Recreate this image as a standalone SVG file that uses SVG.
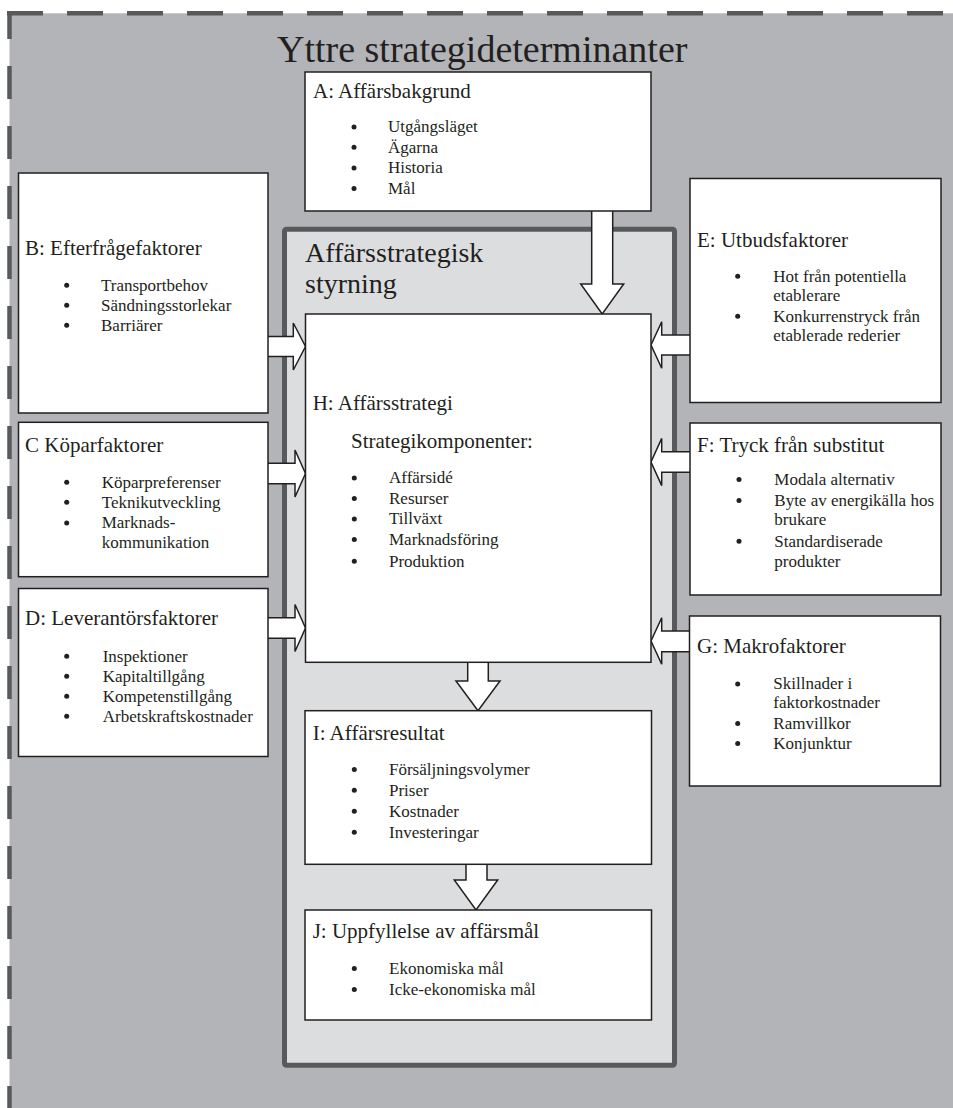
<svg xmlns="http://www.w3.org/2000/svg" width="953" height="1108" viewBox="0 0 953 1108">
  <style>
    .bg { fill: #b3b4b8; }
    .dash { fill: none; stroke: #58595b; stroke-width: 4.5; }
    .panel { fill: #dcdddf; stroke: #58595b; stroke-width: 5; }
    .box { fill: #ffffff; stroke: #231f20; stroke-width: 1.5; }
    .arrow { fill: #ffffff; stroke: #231f20; stroke-width: 1.5; stroke-linejoin: miter; }
    text { font-family: "Liberation Serif", "Times New Roman", serif; fill: #231f20; }
    .title { font-size: 38px; }
    .plabel { font-size: 28px; }
    .head { font-size: 21px; }
    .item { font-size: 17px; }
    .dot { fill: #231f20; }
  </style>

  <!-- outer area: external strategy determinants -->
  <rect class="bg" x="9.5" y="13.3" width="960" height="1110"/>
  <line class="dash" x1="7" y1="13.3" x2="953" y2="13.3" stroke-dasharray="36 24"/>
  <line class="dash" x1="9.5" y1="11" x2="9.5" y2="1108" stroke-dasharray="33 27" stroke-dashoffset="5"/>
  <text class="title" x="277" y="61.5">Yttre strategideterminanter</text>

  <!-- inner panel: business strategy management -->
  <g id="panel">
    <rect class="panel" x="284.5" y="229.2" width="390" height="836" rx="2"/>
    <text class="plabel" x="305" y="261.7">Affärsstrategisk</text>
    <text class="plabel" x="305" y="293.3">styrning</text>
  </g>

  <!-- connectors (block arrows) -->
  <g id="connectors">
    <!-- A to H -->
    <path class="arrow" d="M591.7,211 V284 H580.7 L602.2,314 L623.7,284 H612.7 V211"/>
    <!-- B to H -->
    <path class="arrow" d="M268,336.5 H293.3 V323 L305.5,346.5 L293.3,370 V356.5 H268"/>
    <!-- C to H -->
    <path class="arrow" d="M268,463.3 H295 V450 L305.5,473.5 L295,497 V483.7 H268"/>
    <!-- D to H -->
    <path class="arrow" d="M268,617.8 H295 V604.5 L305.5,628 L295,651.5 V638.2 H268"/>
    <!-- E to H -->
    <path class="arrow" d="M690,335 H661.7 V321.7 L651,345 L661.7,368.3 V355 H690"/>
    <!-- F to H -->
    <path class="arrow" d="M690,451.7 H661.7 V438.4 L651,462 L661.7,485.6 V472.3 H690"/>
    <!-- G to H -->
    <path class="arrow" d="M689.5,631 H661.7 V617.7 L651,641 L661.7,664.3 V651.7 H689.5"/>
    <!-- H to I -->
    <path class="arrow" d="M467.7,662.3 V681 H456 L478,710.7 L500,681 H488.3 V662.3"/>
    <!-- I to J -->
    <path class="arrow" d="M466,864.3 V880 H454.3 L476,910 L497.7,880 H487 V864.3"/>
  </g>

  <g id="nodeA">
    <rect class="box" x="305" y="72" width="346" height="139"/>
    <text class="head" x="313" y="98">A: Affärsbakgrund</text>
    <circle class="dot" cx="354" cy="127" r="2.5"/>
    <circle class="dot" cx="354" cy="147.3" r="2.5"/>
    <circle class="dot" cx="354" cy="168" r="2.5"/>
    <circle class="dot" cx="354" cy="188.6" r="2.5"/>
    <text class="item" x="388" y="132.3">Utgångsläget</text>
    <text class="item" x="388" y="152.7">Ägarna</text>
    <text class="item" x="388" y="173.3">Historia</text>
    <text class="item" x="388" y="194">Mål</text>
  </g>

  <g id="nodeB">
    <rect class="box" x="18.5" y="173" width="249.5" height="240"/>
    <text class="head" x="25" y="255">B: Efterfrågefaktorer</text>
    <circle class="dot" cx="66.7" cy="285.3" r="2.5"/>
    <circle class="dot" cx="66.7" cy="305.3" r="2.5"/>
    <circle class="dot" cx="66.7" cy="325.3" r="2.5"/>
    <text class="item" x="101" y="290.7">Transportbehov</text>
    <text class="item" x="101" y="310.7">Sändningsstorlekar</text>
    <text class="item" x="101" y="330.7">Barriärer</text>
  </g>

  <g id="nodeC">
    <rect class="box" x="18.5" y="422.3" width="249.5" height="154.4"/>
    <text class="head" x="25" y="451.7">C Köparfaktorer</text>
    <circle class="dot" cx="66.7" cy="482.3" r="2.5"/>
    <circle class="dot" cx="66.7" cy="502.3" r="2.5"/>
    <circle class="dot" cx="66.7" cy="522.9" r="2.5"/>
    <text class="item" x="101.7" y="487.7">Köparpreferenser</text>
    <text class="item" x="101.7" y="507.7">Teknikutveckling</text>
    <text class="item" x="101.7" y="528.3">Marknads-</text>
    <text class="item" x="101.7" y="547.7">kommunikation</text>
  </g>

  <g id="nodeD">
    <rect class="box" x="18.5" y="588.5" width="249.5" height="168"/>
    <text class="head" x="25" y="625">D: Leverantörsfaktorer</text>
    <circle class="dot" cx="66.7" cy="656.3" r="2.5"/>
    <circle class="dot" cx="66.7" cy="676.3" r="2.5"/>
    <circle class="dot" cx="66.7" cy="696.3" r="2.5"/>
    <circle class="dot" cx="66.7" cy="716.3" r="2.5"/>
    <text class="item" x="102.7" y="661.7">Inspektioner</text>
    <text class="item" x="102.7" y="681.7">Kapitaltillgång</text>
    <text class="item" x="102.7" y="701.7">Kompetenstillgång</text>
    <text class="item" x="102.7" y="721.7">Arbetskraftskostnader</text>
  </g>

  <g id="nodeE">
    <rect class="box" x="690" y="178.5" width="251" height="224"/>
    <text class="head" x="697" y="247.3">E: Utbudsfaktorer</text>
    <circle class="dot" cx="737.7" cy="276.3" r="2.5"/>
    <circle class="dot" cx="737.7" cy="316.3" r="2.5"/>
    <text class="item" x="773.3" y="281.7">Hot från potentiella</text>
    <text class="item" x="773.3" y="300.7">etablerare</text>
    <text class="item" x="773.3" y="321.7">Konkurrenstryck från</text>
    <text class="item" x="773.3" y="340.7">etablerade rederier</text>
  </g>

  <g id="nodeF">
    <rect class="box" x="690" y="423" width="251" height="172"/>
    <text class="head" x="697" y="451.7">F: Tryck från substitut</text>
    <circle class="dot" cx="739" cy="479.6" r="2.5"/>
    <circle class="dot" cx="739" cy="500.6" r="2.5"/>
    <circle class="dot" cx="739" cy="541.3" r="2.5"/>
    <text class="item" x="774.3" y="485">Modala alternativ</text>
    <text class="item" x="774.3" y="506">Byte av energikälla hos</text>
    <text class="item" x="774.3" y="525">brukare</text>
    <text class="item" x="774.3" y="546.7">Standardiserade</text>
    <text class="item" x="774.3" y="566.7">produkter</text>
  </g>

  <g id="nodeG">
    <rect class="box" x="689.5" y="616" width="251" height="170"/>
    <text class="head" x="697" y="653.3">G: Makrofaktorer</text>
    <circle class="dot" cx="737.7" cy="683.9" r="2.5"/>
    <circle class="dot" cx="737.7" cy="723.6" r="2.5"/>
    <circle class="dot" cx="737.7" cy="743.6" r="2.5"/>
    <text class="item" x="773.3" y="689.3">Skillnader i</text>
    <text class="item" x="773.3" y="708.3">faktorkostnader</text>
    <text class="item" x="773.3" y="729">Ramvillkor</text>
    <text class="item" x="773.3" y="749">Konjunktur</text>
  </g>

  <g id="nodeH">
    <rect class="box" x="305.5" y="314" width="345.5" height="348.3"/>
    <text class="head" x="312.7" y="410">H: Affärsstrategi</text>
    <text class="head" x="351" y="448.3">Strategikomponenter:</text>
    <circle class="dot" cx="354.3" cy="478" r="2.5"/>
    <circle class="dot" cx="354.3" cy="498.6" r="2.5"/>
    <circle class="dot" cx="354.3" cy="519" r="2.5"/>
    <circle class="dot" cx="354.3" cy="539.6" r="2.5"/>
    <circle class="dot" cx="354.3" cy="561.3" r="2.5"/>
    <text class="item" x="389" y="483.3">Affärsidé</text>
    <text class="item" x="389" y="504">Resurser</text>
    <text class="item" x="389" y="524.3">Tillväxt</text>
    <text class="item" x="389" y="545">Marknadsföring</text>
    <text class="item" x="389" y="566.7">Produktion</text>
  </g>

  <g id="nodeI">
    <rect class="box" x="305" y="710.7" width="346.5" height="153.6"/>
    <text class="head" x="312.7" y="740">I: Affärsresultat</text>
    <circle class="dot" cx="354.3" cy="769.6" r="2.5"/>
    <circle class="dot" cx="354.3" cy="790.3" r="2.5"/>
    <circle class="dot" cx="354.3" cy="811.3" r="2.5"/>
    <circle class="dot" cx="354.3" cy="832.3" r="2.5"/>
    <text class="item" x="389" y="775">Försäljningsvolymer</text>
    <text class="item" x="389" y="795.7">Priser</text>
    <text class="item" x="389" y="816.7">Kostnader</text>
    <text class="item" x="389" y="837.7">Investeringar</text>
  </g>

  <g id="nodeJ">
    <rect class="box" x="305" y="910" width="346.5" height="110"/>
    <text class="head" x="312.7" y="938.3">J: Uppfyllelse av affärsmål</text>
    <circle class="dot" cx="354.3" cy="968.6" r="2.5"/>
    <circle class="dot" cx="354.3" cy="989.6" r="2.5"/>
    <text class="item" x="389" y="974">Ekonomiska mål</text>
    <text class="item" x="389" y="995">Icke-ekonomiska mål</text>
  </g>
</svg>
